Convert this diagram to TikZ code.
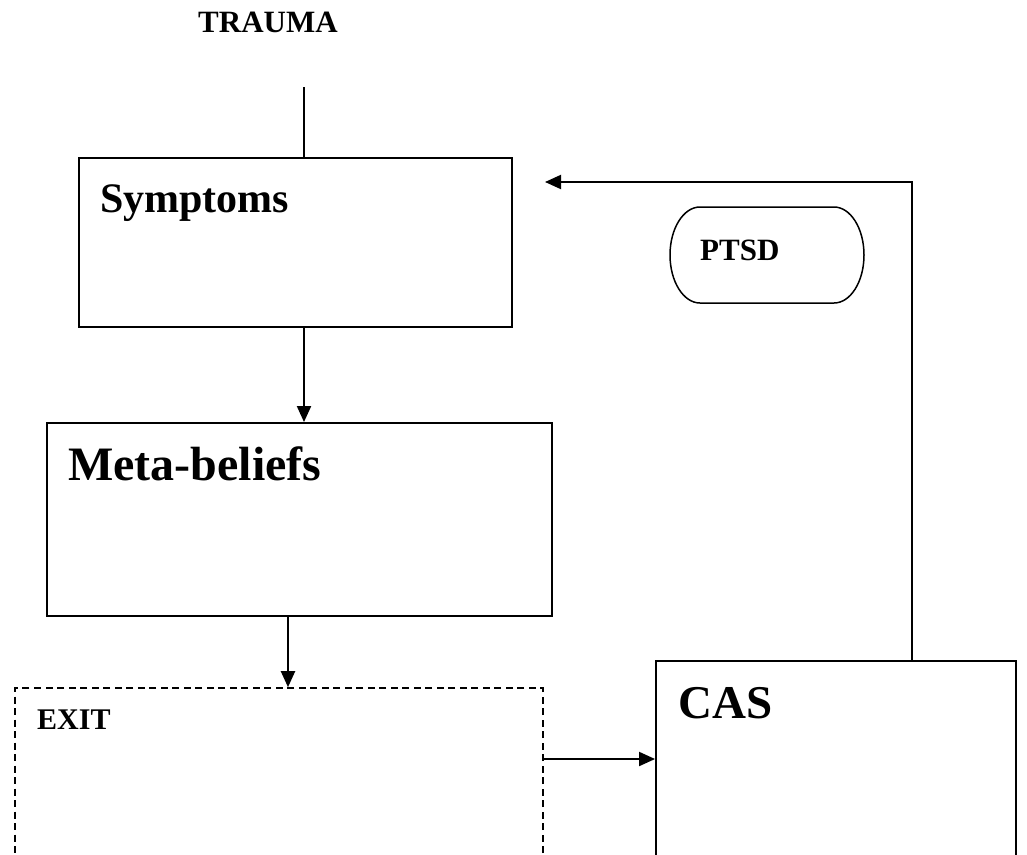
\documentclass[tikz,border=0pt]{standalone}
\usepackage{fontspec}
\setmainfont{Liberation Serif}
\usetikzlibrary{arrows.meta,calc}
\begin{document}
\begin{tikzpicture}[x=1pt,y=-1pt,
  box/.style={draw, line width=1.9pt, rectangle, inner sep=0pt},
  exitbox/.style={box, line width=1.6pt, dash pattern=on 7pt off 4.5pt},
  arr/.style={line width=2pt, -{Triangle[length=16pt,width=14pt]}},
  lbl/.style={anchor=base west, inner sep=0pt, font=\bfseries\fontsize{#1}{#1}\selectfont},
]
\useasboundingbox (0,0) rectangle (1027,854);
\fill[white] (0,0) rectangle (1027,854);
\clip (0,0) rectangle (1027,854);

% boxes
\node[box, minimum width=433pt, minimum height=169pt] (sym) at (295.5,242.5) {};
\node[box, minimum width=505pt, minimum height=193pt] (meta) at (299.5,519.5) {};
\node[exitbox, minimum width=528pt, minimum height=212pt] (exit) at (279,794) {};
\node[box, minimum width=360pt, minimum height=196pt] (cas) at (836,759) {};

% terminator shape with elliptical ends
\draw[line width=1.5pt] (700,207) -- (834,207)
  arc[start angle=-90, end angle=90, x radius=30, y radius=48]
  -- (700,303)
  arc[start angle=90, end angle=270, x radius=30, y radius=48] -- cycle;

% labels
\node[lbl=31] (trauma) at (198,32) {TRAUMA};
\node[lbl=42] (symlbl) at (100,212) {Symptoms};
\node[lbl=48] (metalbl) at (68,480) {Meta-beliefs};
\node[lbl=30] (exitlbl) at (37,729) {EXIT};
\node[lbl=47] (caslbl) at (678,718) {CAS};
\node[lbl=31] (ptsd) at (700,260) {PTSD};

% connectors
\coordinate (tin) at (304,87);
\coordinate (mdown) at (288,0);
\draw[line width=1.4pt] (tin) -- (tin |- sym.north);
\draw[arr] (sym.south -| tin) -- (meta.north -| tin);
\draw[arr] (meta.south -| mdown) -- (exit.north -| mdown);
\draw[arr] (exit.east |- cas.west) -- (cas.west);
\coordinate (fbx) at (912,182);
\coordinate (fbend) at (545,182);
\draw[arr] (cas.north -| fbx) -- (fbx) -- (fbend);
\end{tikzpicture}
\end{document}
